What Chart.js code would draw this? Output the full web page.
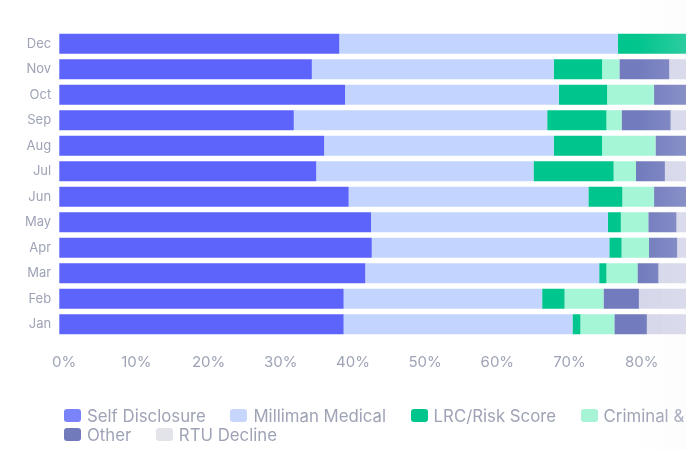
<!DOCTYPE html>
<html>
<head>
<meta charset="utf-8">
<script src="https://cdn.jsdelivr.net/npm/chart.js@4/dist/chart.umd.min.js"></script>
<style>
  html, body { margin: 0; padding: 0; background: #fff; overflow: hidden; }
  #wrap { position: relative; width: 686px; height: 450px; overflow: hidden; }
  #chart { position: absolute; left: 0; top: 0; }
  #legend {
    position: absolute; left: 64px; top: 406px; width: 680px;
    display: flex; flex-wrap: wrap; column-gap: 24.5px; row-gap: 0;
    font-family: Inter, "Noto Sans", sans-serif; font-size: 16.8px; color: #9ea3b6;
    white-space: nowrap;
  }
  .item { display: flex; align-items: center; height: 19px; }
  .box { width: 17px; height: 13px; border-radius: 3px; margin-right: 6px; flex: none; }
  #fade {
    position: absolute; top: 0; right: 0; width: 50px; height: 450px;
    background: linear-gradient(to right, rgba(242,242,246,0), rgba(242,242,246,0.18));
  }
</style>
</head>
<body>
<div id="wrap">
  <canvas id="chart" width="817" height="450"></canvas>
  <div id="legend"></div>
  <div id="fade"></div>
</div>
<script>
const months = ["Dec", "Nov", "Oct", "Sep", "Aug", "Jul", "Jun", "May", "Apr", "Mar", "Feb", "Jan"];

const selfDisclosure = [38.8, 35.0, 39.6, 32.5, 36.7, 35.6, 40.1, 43.2, 43.3, 42.4, 39.4, 39.4];
const millimanMedical = [38.6, 33.5, 29.6, 35.1, 31.8, 30.1, 33.2, 32.8, 32.9, 32.4, 27.5, 31.7];
const lrcRiskScore = [13.0, 6.7, 6.7, 8.2, 6.7, 11.1, 4.7, 1.8, 1.7, 1.0, 3.1, 1.1];
const criminalMvr = [4.0, 2.4, 6.5, 2.1, 7.4, 3.1, 4.4, 3.8, 3.8, 4.3, 5.4, 4.7];
const other = [3.5, 6.9, 6.0, 6.8, 4.3, 4.0, 6.0, 3.9, 3.9, 2.9, 4.9, 4.5];
const rtuDecline = [2.1, 15.5, 11.6, 15.3, 13.1, 16.1, 11.6, 14.5, 14.4, 17.0, 19.7, 18.6];

const xTicks = [0, 10, 20, 30, 40, 50, 60, 70, 80, 90, 100];

const SERIES = [
  { label: "Self Disclosure", data: selfDisclosure, color: "#5c64fb", legendColor: "#7b83fa" },
  { label: "Milliman Medical", data: millimanMedical, color: "#c3d4fe", legendColor: "#c8d6fd" },
  { label: "LRC/Risk Score", data: lrcRiskScore, color: "#00c58d", legendColor: "#00c58d" },
  { label: "Criminal & MVR", data: criminalMvr, color: "#a4f6d7", legendColor: "#a6f3d6" },
  { label: "Other", data: other, color: "#717bbd", legendColor: "#717bbb" },
  { label: "RTU Decline", data: rtuDecline, color: "#d5d7ea", legendColor: "#e3e4ea" }
];

const tickColor = "#9ea3b6";

const chart = new Chart(document.getElementById("chart").getContext("2d"), {
  type: "bar",
  data: {
    labels: months,
    datasets: SERIES.map((s) => ({
      label: s.label,
      data: s.data,
      backgroundColor: s.color,
      borderWidth: 0,
      barPercentage: 1,
      categoryPercentage: 0.776
    }))
  },
  options: {
    indexAxis: "y",
    responsive: false,
    animation: false,
    devicePixelRatio: 1,
    layout: { padding: { top: 31, bottom: 63, left: 17, right: 0 } },
    scales: {
      x: {
        stacked: true,
        min: 0,
        max: 100,
        afterBuildTicks: (axis) => { axis.ticks = xTicks.map((v) => ({ value: v })); },
        grid: { display: false, drawTicks: false },
        border: { display: false },
        ticks: {
          padding: 16,
          labelOffset: 5,
          color: tickColor,
          font: { family: "Inter", size: 15 },
          callback: (v) => v + "%"
        }
      },
      y: {
        stacked: true,
        grid: { display: false, drawTicks: false },
        border: { display: false },
        ticks: { padding: 8, color: tickColor, font: { family: "Inter", size: 13 } }
      }
    },
    plugins: {
      legend: { display: false },
      tooltip: { enabled: false }
    }
  }
});

// HTML legend built from the chart datasets
const legendEl = document.getElementById("legend");
chart.data.datasets.forEach((ds, i) => {
  const item = document.createElement("div");
  item.className = "item";
  const box = document.createElement("span");
  box.className = "box";
  box.style.background = SERIES[i].legendColor;
  const txt = document.createElement("span");
  txt.textContent = ds.label;
  item.appendChild(box);
  item.appendChild(txt);
  legendEl.appendChild(item);
});
</script>
</body>
</html>
